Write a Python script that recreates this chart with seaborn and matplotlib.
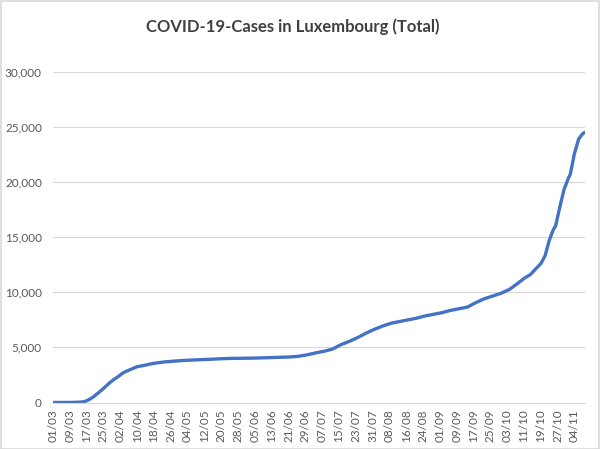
import matplotlib
matplotlib.use("Agg")
import matplotlib.pyplot as plt
import matplotlib.ticker as mticker
import seaborn as sns
import pandas as pd
from matplotlib.patches import Rectangle

# Dates (2020) and cumulative case counts
dates = ["01/03", "09/03", "12/03", "14/03", "16/03", "18/03", "20/03", "22/03",
         "24/03", "26/03", "28/03", "30/03", "01/04", "03/04", "05/04", "07/04",
         "10/04", "13/04", "16/04", "19/04", "23/04", "27/04", "01/05", "05/05",
         "10/05", "15/05", "20/05", "25/05", "30/05", "05/06", "11/06", "17/06",
         "22/06", "26/06", "30/06", "04/07", "08/07", "12/07", "16/07", "20/07",
         "24/07", "28/07", "01/08", "05/08", "09/08", "13/08", "17/08", "21/08",
         "25/08", "29/08", "02/09", "06/09", "10/09", "14/09", "18/09", "22/09",
         "26/09", "30/09", "04/10", "08/10", "11/10", "14/10", "17/10", "19/10",
         "21/10", "23/10", "25/10", "26/10", "28/10", "30/10", "01/11", "02/11",
         "04/11", "06/11", "08/11", "09/11"]
cases = [0, 5, 20, 40, 80, 250, 480, 790,
         1100, 1450, 1800, 2100, 2350, 2650, 2850, 3000,
         3250, 3350, 3480, 3580, 3680, 3740, 3800, 3840,
         3880, 3920, 3970, 4000, 4010, 4030, 4060, 4100,
         4130, 4200, 4330, 4500, 4650, 4850, 5250, 5550,
         5900, 6300, 6650, 6950, 7200, 7350, 7500, 7650,
         7850, 8000, 8150, 8350, 8500, 8650, 9050, 9400,
         9650, 9900, 10250, 10800, 11250, 11600, 12200, 12600,
         13300, 14700, 15700, 16000, 17700, 19300, 20300, 20700,
         22600, 23900, 24400, 24500]

# Tick labels every 8 days
tick_labels = ["01/03", "09/03", "17/03", "25/03", "02/04", "10/04", "18/04", "26/04",
               "04/05", "12/05", "20/05", "28/05", "05/06", "13/06", "21/06", "29/06",
               "07/07", "15/07", "23/07", "31/07", "08/08", "16/08", "24/08", "01/09",
               "09/09", "17/09", "25/09", "03/10", "11/10", "19/10", "27/10", "04/11"]
y_ticks = [0, 5000, 10000, 15000, 20000, 25000, 30000]

start = pd.Timestamp("2020-03-01")
def day_index(s):
    d, m = s.split("/")
    return (pd.Timestamp(year=2020, month=int(m), day=int(d)) - start).days

df = pd.DataFrame({"day": [day_index(s) for s in dates], "cases": cases})
tick_pos = [day_index(s) for s in tick_labels]

sns.set_theme(style="white")
plt.rcParams["font.family"] = ["Lato", "DejaVu Sans"]

fig = plt.figure(figsize=(6.0, 4.49), dpi=100)
ax = fig.add_axes([53 / 600, 1 - 402.5 / 449, (585 - 53) / 600, (402.5 - 71.7) / 449])

sns.lineplot(data=df, x="day", y="cases", ax=ax, color="#4472C4", linewidth=2.4)

ax.set_xlim(0, 253)
ax.set_ylim(0, 30000)
ax.set_yticks(y_ticks)
ax.yaxis.set_major_formatter(mticker.FuncFormatter(lambda v, p: f"{int(v):,}"))
ax.set_xticks(tick_pos)
ax.set_xticklabels(tick_labels, rotation=90)
ax.set_xlabel("")
ax.set_ylabel("")
ax.grid(axis="y", color="#D9D9D9", linewidth=0.8)
ax.set_axisbelow(True)
for side in ["top", "right", "left"]:
    ax.spines[side].set_visible(False)
ax.spines["bottom"].set_color("#D9D9D9")
ax.spines["bottom"].set_linewidth(0.8)
ax.tick_params(axis="both", length=0, colors="#595959", labelsize=8.5)
ax.tick_params(axis="y", pad=8)
ax.tick_params(axis="x", pad=5)

fig.text(292.5 / 600, 1 - 27 / 449, "COVID-19-Cases in Luxembourg (Total)", ha="center", va="center",
         fontsize=12, color="#404040", fontweight="bold")

fig.patches.append(Rectangle((0.001, 0.001), 0.997, 0.997, transform=fig.transFigure,
                             fill=False, edgecolor="#D9D9D9", linewidth=1.2))

fig.savefig("out.png", dpi=100)
